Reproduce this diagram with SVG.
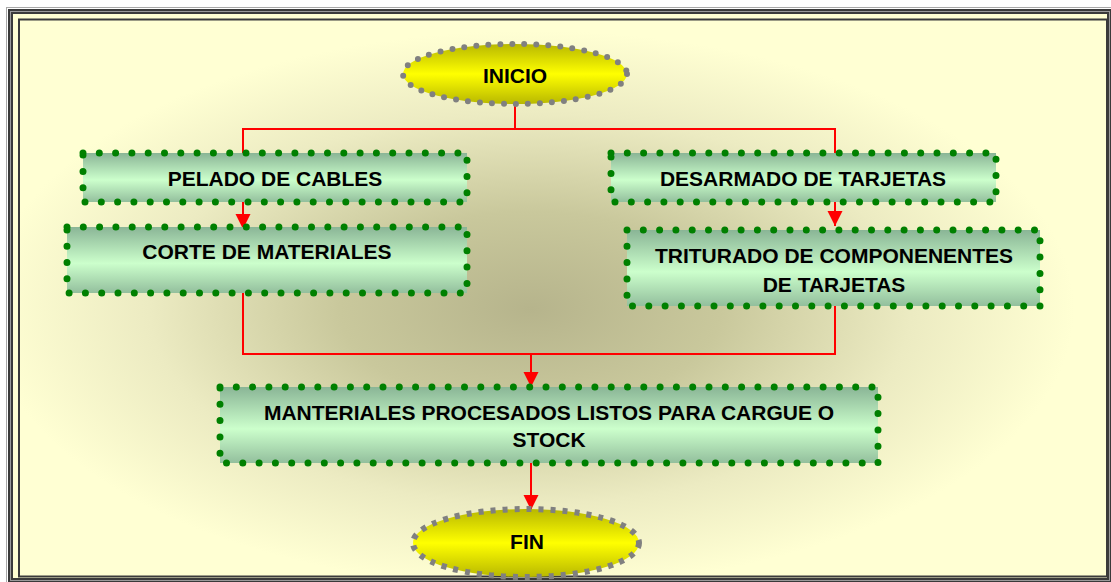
<svg xmlns="http://www.w3.org/2000/svg" width="1111" height="582" viewBox="0 0 1111 582">
  <defs>
    <radialGradient id="bgGrad" cx="0.47" cy="0.52" r="0.5">
      <stop offset="0" stop-color="#B6B48C"/>
      <stop offset="0.35" stop-color="#C9C89C"/>
      <stop offset="0.7" stop-color="#ECEBC2"/>
      <stop offset="1" stop-color="#FFFFD3"/>
    </radialGradient>
    <linearGradient id="boxGrad" x1="0" y1="0" x2="0" y2="1">
      <stop offset="0" stop-color="#8AB596"/>
      <stop offset="0.55" stop-color="#CCFFCC"/>
      <stop offset="1" stop-color="#93BF9D"/>
    </linearGradient>
    <linearGradient id="ovalGrad" x1="0" y1="0" x2="0" y2="1">
      <stop offset="0" stop-color="#B8B800"/>
      <stop offset="0.5" stop-color="#FFFF00"/>
      <stop offset="1" stop-color="#B8B800"/>
    </linearGradient>
    <marker id="arrow" markerUnits="userSpaceOnUse" markerWidth="16" markerHeight="16" refX="15" refY="7.5" orient="auto">
      <path d="M0,0 L15,7.5 L0,15 Z" fill="#FF0000"/>
    </marker>
    <style>
      .box { fill: url(#boxGrad); stroke: #008000; stroke-width: 7; stroke-dasharray: 0 16.3; stroke-linecap: round; }
      .oval { fill: url(#ovalGrad); stroke: #808080; stroke-width: 6; }
      .round-dots { stroke-dasharray: 0 12; stroke-linecap: round; }
      .square-dots { stroke-dasharray: 5 7; stroke-linecap: butt; }
      .lbl { font-family: "Liberation Sans", Arial, sans-serif; font-weight: bold; font-size: 21px; fill: #000000; text-anchor: middle; }
      .conn { fill: none; stroke: #FF0000; stroke-width: 2; }
    </style>
  </defs>

  <!-- page and border -->
  <rect x="0" y="0" width="1111" height="582" fill="#FFFFFF"/>
  <rect x="6.5" y="7.5" width="1110" height="580" fill="none" stroke="#A8A8A8" stroke-width="1"/>
  <rect x="10.5" y="11.5" width="1099" height="569" fill="#FFFFD3" stroke="#3A3A3A" stroke-width="5"/>
  <rect x="10.5" y="11.5" width="1099" height="569" fill="none" stroke="#9A9A9A" stroke-width="1"/>
  <rect x="19" y="19.5" width="1088" height="557" fill="url(#bgGrad)" stroke="#3A3A3A" stroke-width="2"/>

  <!-- connectors -->
  <g id="connectors">
    <path class="conn" d="M515,104 V129 M243,153 V129 H835 V153"/>
    <path class="conn" d="M243,202 V229" marker-end="url(#arrow)"/>
    <path class="conn" d="M835,202 V226" marker-end="url(#arrow)"/>
    <path class="conn" d="M243,293 V354 H835 V306"/>
    <path class="conn" d="M531,354 V387" marker-end="url(#arrow)"/>
    <path class="conn" d="M531,463 V510" marker-end="url(#arrow)"/>
  </g>

  <!-- nodes -->
  <g id="inicio">
    <ellipse class="oval round-dots" cx="515" cy="74" rx="112" ry="30"/>
    <text class="lbl" x="515" y="83">INICIO</text>
  </g>

  <g id="pelado">
    <rect class="box" x="83" y="153" width="384" height="49"/>
    <text class="lbl" x="275" y="186">PELADO DE CABLES</text>
  </g>

  <g id="corte">
    <rect class="box" x="67" y="227" width="400" height="66"/>
    <text class="lbl" x="267" y="259">CORTE DE MATERIALES</text>
  </g>

  <g id="desarmado">
    <rect class="box" x="611" y="153" width="385" height="49"/>
    <text class="lbl" x="803" y="186">DESARMADO DE TARJETAS</text>
  </g>

  <g id="triturado">
    <rect class="box" x="627" y="230" width="413" height="76"/>
    <text class="lbl" x="834" y="263">TRITURADO DE COMPONENENTES</text>
    <text class="lbl" x="834" y="292">DE TARJETAS</text>
  </g>

  <g id="procesados">
    <rect class="box" x="220" y="387" width="658" height="76"/>
    <text class="lbl" x="549" y="420">MANTERIALES PROCESADOS LISTOS PARA CARGUE O</text>
    <text class="lbl" x="549" y="447">STOCK</text>
  </g>

  <g id="fin">
    <ellipse class="oval square-dots" cx="526" cy="543" rx="113" ry="34"/>
    <text class="lbl" x="527" y="549">FIN</text>
  </g>
</svg>
